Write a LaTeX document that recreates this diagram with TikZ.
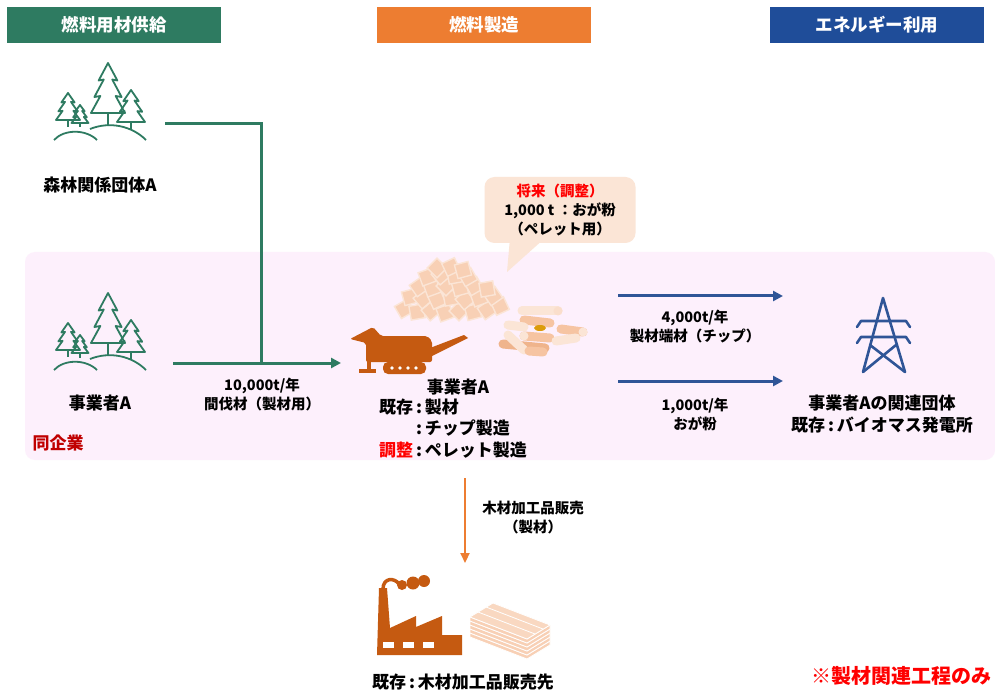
\documentclass[tikz,border=0pt]{standalone}
\usepackage{fontspec}
\setmainfont{Noto Sans CJK JP}
\usetikzlibrary{arrows.meta}

\definecolor{woodgreen}{RGB}{46,123,97}
\definecolor{fuelorange}{RGB}{237,125,49}
\definecolor{powerblue}{RGB}{31,77,153}
\definecolor{arrowblue}{RGB}{47,85,151}
\definecolor{rust}{RGB}{197,90,17}
\definecolor{peach}{RGB}{246,196,162}
\definecolor{paleorange}{RGB}{251,229,214}
\definecolor{bandpink}{RGB}{253,240,252}
\definecolor{darkred}{RGB}{192,0,0}

\newcommand\hdrfont{\fontsize{17.5}{19}\selectfont\bfseries}
\newcommand\namefont{\fontsize{17}{21.5}\selectfont\bfseries}
\newcommand\flowfont{\fontsize{14.5}{19}\selectfont\bfseries}

% pine tree: apex x, apex y, height, half width
\newcommand\pine[4]{%
  \begin{scope}[shift={(#1,#2)},xscale=#4,yscale=#3]
    \draw[treeline] (0,0) -- (0.55,0.35) -- (0.25,0.33) -- (0.8,0.68) -- (0.45,0.66) -- (1,1)
      -- (-1,1) -- (-0.45,0.66) -- (-0.8,0.68) -- (-0.25,0.33) -- (-0.55,0.35) -- cycle;
    \draw[treeline] (0,1) -- (0,1.25);
  \end{scope}}

\tikzset{
  treeline/.style={woodgreen,line width=1.8,line join=round},
  forest/.pic={
    \pine{108}{63}{50}{17}
    \pine{131}{90}{32}{14}
    \pine{68}{93}{27}{12}
    \pine{80}{105}{18}{8.5}
    \draw[treeline] (54,140) .. controls (64,129) and (86,129) .. (97,140);
    \draw[treeline] (90,129) .. controls (110,121) and (132,126) .. (146,140);
  },
  header/.style={fill=#1,text=white,minimum width=214,minimum height=36,inner sep=0,font=\hdrfont},
  txt/.style={align=center,font=\namefont,inner sep=0},
  flowtxt/.style={align=center,font=\flowfont,inner sep=0},
  chip/.style={fill=peach!80!white,draw=paleorange,line width=1.4},
  pellet/.style={line width=9,line cap=round,#1},
  greenflow/.style={woodgreen,line width=3},
  blueflow/.style={arrowblue,line width=3,-{Triangle[length=10,width=10]}},
}

\begin{document}
\begin{tikzpicture}[x=1pt,y=-1pt]
\useasboundingbox (0,0) rectangle (995,692);
\fill[white] (0,0) rectangle (995,692);
\fill[bandpink,rounded corners=10] (25,252) rectangle (995,460);

% column headers
\node[header=woodgreen] (supply) at (114,25) {燃料用材供給};
\node[header=fuelorange] (making) at (484,25) {燃料製造};
\node[header=powerblue] (usage) at (877,25) {エネルギー利用};

% forests
\pic at (0,0) {forest};
\pic at (0,230) {forest};
\node[txt] (forestA) at (100,185) {森林関係団体A};
\node[txt] (ownerA) at (100,403) {事業者A};
\node[txt,text=darkred] (sameco) at (58,443) {同企業};

% wood chips
\foreach \x/\y/\a in {404/309/30,417/312/10,431/311/40,445/313/20,459/311/45,473/312/15,487/310/35,500/306/25,
  410/297/15,423/299/40,437/300/25,451/298/10,465/300/40,479/298/20,493/296/35,
  419/287/35,432/288/20,446/286/45,460/288/15,474/286/30,487/289/10,
  427/277/20,441/275/40,455/276/10,468/277/30,437/268/45,451/267/25,463/270/15}
  \draw[chip,rotate around={\a:(\x,\y)}] ({\x-7},{\y-7}) rectangle ({\x+7},{\y+7});

% pellets
\draw[pellet=paleorange] (522,311) -- (558,311);
\fill[paleorange!80!peach] (558,311) circle (4.5);
\draw[pellet=peach] (524,320) -- (550,323);
\draw[pellet=paleorange] (508,325) -- (524,327);
\fill[rust!60!yellow] (540,328) ellipse (6 and 3);
\draw[pellet=peach] (561,329) -- (583,332);
\fill[paleorange] (583,332) circle (4.5);
\draw[pellet=peach] (524,336) -- (550,338);
\fill[paleorange] (524,336) circle (4.5);
\draw[pellet=paleorange] (556,341) -- (576,338);
\draw[pellet=peach!85!rust] (503,344) -- (545,348);
\draw[pellet=paleorange] (508,335) -- (524,350);
\draw[pellet=peach] (529,351) -- (543,352);

% chipper
\fill[rust,rounded corners=2] (350,339) -- (373,327) -- (381,336) -- (427,336) -- (432,341)
  -- (432,362) -- (366,362) -- (366,343) -- cycle;
\fill[rust] (430,348) -- (464,335) -- (468,338) -- (432,356) -- cycle;
\fill[rust,rounded corners=5] (383,362) rectangle (426,374);
\foreach \x in {392,400,408,416}
  \fill[white] (\x,368) circle (1.8);
\fill[rust] (367,360) rectangle (371,369);
\fill[rust] (359,369) rectangle (376,373);

% note bubble
\fill[paleorange] (510,238) -- (507,272) -- (545,238) -- cycle;
\node[fill=paleorange,rounded corners=10,minimum width=151,minimum height=66,align=center,
  font=\flowfont,inner sep=0] (bubble) at (560,210)
  {\textcolor{red}{将来（調整）}\\1,000 t ：おが粉\\（ペレット用）};

\node[txt] (millA) at (458,387) {事業者A};
\node[txt,anchor=north west] (millTxt) at (379,398)
  {\begin{tabular}{@{}r@{\,:\,}l@{}}既存&製材\\&チップ製造\\\textcolor{red}{調整}&ペレット製造\end{tabular}};

% transmission tower
\begin{scope}[arrowblue,line width=2.6,line cap=round,line join=round]
  \draw (863,372) -- (883,298) -- (905,372);
  \draw (857,327) -- (861,321) -- (906,321) -- (910,327);
  \draw (857,343) -- (861,337) -- (906,337) -- (910,343);
  \draw (870,345) -- (905,372);
  \draw (896,345) -- (863,372);
\end{scope}
\node[txt] (plant) at (882,414) {事業者Aの関連団体\\既存\,:\,バイオマス発電所};

% factory and lumber
\fill[rust] (379,588) -- (387,588) -- (390,628) -- (416,616) -- (416,627) -- (442,616) -- (442,635)
  -- (462,635) -- (462,655) -- (377,655) -- cycle;
\foreach \x in {383,403,423}
  \fill[white] (\x,642) rectangle ({\x+11},648);
\draw[rust,line width=3.5] (383,589) .. controls (383,578) and (394,577) .. (399,584);
\fill[rust] (402,585) circle (5);
\fill[rust] (413,583) circle (6.5);
\fill[rust] (424,581) circle (6);
\foreach \d in {16,12,8,4,0}
  \filldraw[fill=peach!80!white,draw=white,line width=0.8] (470,{617+\d}) -- (527,{639+\d}) -- (550,{625+\d})
    -- (550,{629+\d}) -- (527,{643+\d}) -- (470,{621+\d}) -- cycle;
\filldraw[fill=paleorange!60!peach,draw=white,line width=0.8] (470,617) -- (493,603) -- (550,625) -- (527,639) -- cycle;
\draw[white,line width=0.8] (478,612) -- (535,634) (486,607) -- (543,629);
\node[txt] (buyer) at (463,682) {既存\,:\,木材加工品販売先};

% flows
\coordinate (f1out) at (165,124);
\coordinate (f2out) at (173,363);
\coordinate (join) at (261,363);
\coordinate (millIn) at (341,363);
\draw[greenflow] (f1out) -| (join);
\draw[greenflow,-{Triangle[length=10,width=10]}] (f2out) -- (millIn);
\node[flowtxt] (thinLbl) at (262,395) {10,000t/年\\間伐材（製材用）};

\coordinate (chipOut) at (618,296);
\coordinate (chipIn) at (783,296);
\coordinate (dustOut) at (618,381);
\coordinate (dustIn) at (783,381);
\draw[blueflow] (chipOut) -- (chipIn);
\draw[blueflow] (dustOut) -- (dustIn);
\node[flowtxt] (chipLbl) at (695,327) {4,000t/年\\製材端材（チップ）};
\node[flowtxt] (dustLbl) at (695,414) {1,000t/年\\おが粉};

\coordinate (saleOut) at (465,478);
\coordinate (saleIn) at (465,563);
\draw[fuelorange,line width=2.2,-{Triangle[length=10,width=9]}] (saleOut) -- (saleIn);
\node[flowtxt] (saleLbl) at (533,518) {木材加工品販売\\（製材）};

\node[font=\fontsize{20}{22}\selectfont\bfseries,text=red,inner sep=0] (scope) at (901,676) {※製材関連工程のみ};
\end{tikzpicture}
\end{document}
